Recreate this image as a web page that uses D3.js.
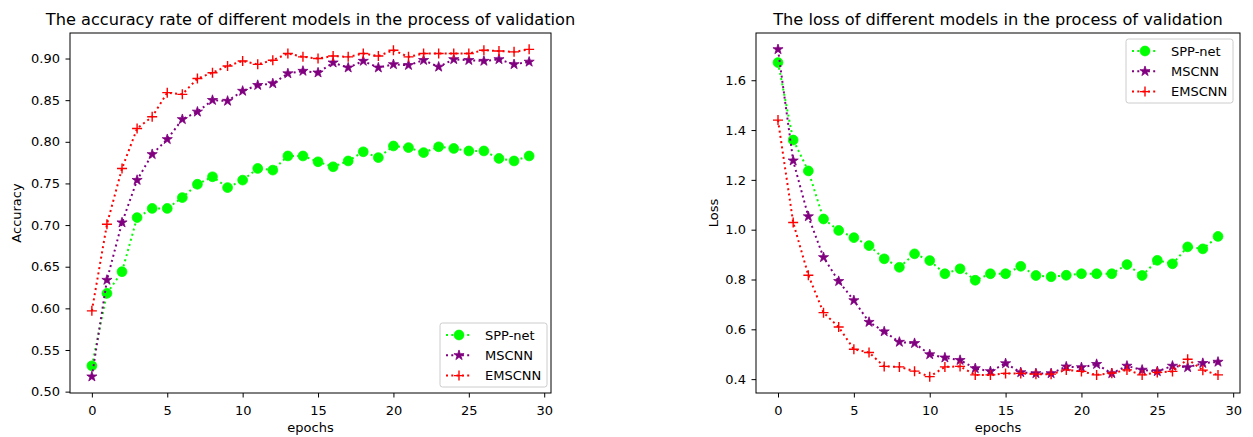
<!DOCTYPE html>
<html>
<head>
<meta charset="utf-8">
<script src="https://cdn.jsdelivr.net/npm/d3@7.9.0/dist/d3.min.js"></script>
<style>
  body { margin: 0; background: #fff; }
  svg { display: block; font-family: "DejaVu Sans", sans-serif; }
  .tick text { font-family: "DejaVu Sans", sans-serif; font-size: 13px; fill: #000; }
  .tick line { stroke: #000; stroke-width: 1; }
</style>
</head>
<body>
<svg id="chart" width="1253" height="437"></svg>
<script>
// epochs on the x axis
const epochs = d3.range(30);

// validation accuracy
const accSPP = [0.531, 0.618, 0.644, 0.709, 0.720, 0.720, 0.733, 0.749, 0.758, 0.745,
                0.754, 0.768, 0.766, 0.783, 0.783, 0.776, 0.770, 0.777, 0.788, 0.781,
                0.795, 0.793, 0.787, 0.794, 0.792, 0.789, 0.789, 0.780, 0.777, 0.783];
const accMS = [0.518, 0.634, 0.703, 0.754, 0.785, 0.803, 0.827, 0.836, 0.850, 0.849,
               0.861, 0.868, 0.870, 0.882, 0.885, 0.883, 0.895, 0.889, 0.897, 0.889,
               0.893, 0.892, 0.898, 0.890, 0.899, 0.898, 0.897, 0.899, 0.893, 0.896];
const accEMS = [0.597, 0.701, 0.768, 0.816, 0.830, 0.859, 0.857, 0.876, 0.883, 0.891,
                0.897, 0.893, 0.898, 0.906, 0.902, 0.900, 0.903, 0.902, 0.906, 0.903,
                0.910, 0.902, 0.906, 0.906, 0.906, 0.906, 0.910, 0.909, 0.908, 0.911];

// validation loss
const lossSPP = [1.671, 1.360, 1.236, 1.043, 0.997, 0.968, 0.936, 0.883, 0.849, 0.903,
                 0.876, 0.823, 0.843, 0.797, 0.823, 0.823, 0.853, 0.816, 0.811, 0.817,
                 0.823, 0.823, 0.823, 0.860, 0.816, 0.877, 0.863, 0.931, 0.923, 0.973];
const lossMS = [1.724, 1.277, 1.053, 0.889, 0.793, 0.716, 0.629, 0.591, 0.549, 0.544,
                0.499, 0.486, 0.476, 0.443, 0.431, 0.463, 0.427, 0.423, 0.423, 0.450,
                0.447, 0.460, 0.423, 0.453, 0.437, 0.431, 0.453, 0.447, 0.464, 0.469];
const lossEMS = [1.440, 1.029, 0.817, 0.667, 0.609, 0.520, 0.507, 0.451, 0.449, 0.432,
                 0.410, 0.449, 0.451, 0.417, 0.417, 0.423, 0.423, 0.420, 0.420, 0.437,
                 0.431, 0.417, 0.424, 0.437, 0.417, 0.427, 0.431, 0.480, 0.436, 0.417];

const modelNames = ['SPP-net', 'MSCNN', 'EMSCNN'];
const modelColors = ['#00ff00', '#800080', '#ff0000'];
const modelMarkers = ['circle', 'star', 'plus'];

const xTicks = [0, 5, 10, 15, 20, 25, 30];
const accTicks = [0.50, 0.55, 0.60, 0.65, 0.70, 0.75, 0.80, 0.85, 0.90];
const lossTicks = [0.4, 0.6, 0.8, 1.0, 1.2, 1.4, 1.6];

const svg = d3.select('#chart');

// draw one marker of the given kind at (0,0) inside g
function drawMarker(g, kind, color) {
  if (kind === 'circle') {
    g.append('circle').attr('r', 4.9).attr('fill', color).attr('stroke', color).attr('stroke-width', 0.8);
  } else if (kind === 'star') {
    g.append('path').attr('d', d3.symbol(d3.symbolStar, 32)())
      .attr('fill', color).attr('stroke', color).attr('stroke-width', 0.8);
  } else {
    g.append('path').attr('d', 'M-5,0H5M0,-5V5')
      .attr('stroke', color).attr('stroke-width', 1.4).attr('fill', 'none');
  }
}

function drawPanel(p) {
  const x = d3.scaleLinear().domain([-1.45, 30.45]).range([p.left, p.right]);
  const all = p.series.flat();
  const lo = d3.min(all), hi = d3.max(all), pad = (hi - lo) * 0.05;
  const y = d3.scaleLinear().domain([lo - pad, hi + pad]).range([p.bottom, p.top]);

  const g = svg.append('g');

  g.append('g')
    .attr('transform', `translate(0,${p.bottom})`)
    .call(d3.axisBottom(x).tickValues(xTicks).tickSize(4.5).tickPadding(8).tickFormat(d3.format('d')))
    .call(a => a.select('.domain').remove());

  g.append('g')
    .attr('transform', `translate(${p.left},0)`)
    .call(d3.axisLeft(y).tickValues(p.yTicks).tickSize(4.5).tickPadding(5.5).tickFormat(d3.format(p.yFormat)))
    .call(a => a.select('.domain').remove());

  const line = d3.line().x((d, i) => x(epochs[i])).y(d => y(d));

  p.series.forEach((s, k) => {
    g.append('path')
      .attr('d', line(s))
      .attr('fill', 'none')
      .attr('stroke', modelColors[k])
      .attr('stroke-width', 2)
      .attr('stroke-dasharray', '2,3.3');
    s.forEach((v, i) => {
      const m = g.append('g').attr('transform', `translate(${x(epochs[i])},${y(v)})`);
      drawMarker(m, modelMarkers[k], modelColors[k]);
    });
  });

  // frame
  g.append('rect')
    .attr('x', p.left).attr('y', p.top)
    .attr('width', p.right - p.left).attr('height', p.bottom - p.top)
    .attr('fill', 'none').attr('stroke', '#000').attr('stroke-width', 1);

  // title and labels
  g.append('text')
    .attr('x', (p.left + p.right) / 2).attr('y', 25)
    .attr('text-anchor', 'middle').attr('font-size', 16.2).attr('fill', '#000')
    .text(p.title);
  g.append('text')
    .attr('x', (p.left + p.right) / 2).attr('y', 432)
    .attr('text-anchor', 'middle').attr('font-size', 13).attr('fill', '#000')
    .text('epochs');
  g.append('text')
    .attr('transform', `translate(${p.yLabelX},${(p.top + p.bottom) / 2}) rotate(-90)`)
    .attr('text-anchor', 'middle').attr('font-size', 13).attr('fill', '#000')
    .text(p.yLabel);

  // legend
  const lg = g.append('g').attr('transform', `translate(${p.legendX},${p.legendY})`);
  lg.append('rect')
    .attr('width', 107).attr('height', 64).attr('rx', 2.5)
    .attr('fill', '#fff').attr('fill-opacity', 0.8)
    .attr('stroke', '#cccccc').attr('stroke-width', 1);
  modelNames.forEach((name, k) => {
    const ry = 12 + k * 20.3;
    lg.append('line')
      .attr('x1', 6).attr('x2', 32).attr('y1', ry).attr('y2', ry)
      .attr('stroke', modelColors[k]).attr('stroke-width', 2).attr('stroke-dasharray', '2,3.3');
    drawMarker(lg.append('g').attr('transform', `translate(19,${ry})`), modelMarkers[k], modelColors[k]);
    lg.append('text')
      .attr('x', 45).attr('y', ry).attr('dy', '0.36em')
      .attr('font-size', 13).attr('fill', '#000')
      .text(name);
  });
}

drawPanel({
  left: 70, right: 551, top: 33, bottom: 393,
  series: [accSPP, accMS, accEMS],
  yTicks: accTicks, yFormat: '.2f',
  title: 'The accuracy rate of different models in the process of validation',
  yLabel: 'Accuracy', yLabelX: 21,
  legendX: 440, legendY: 323
});

drawPanel({
  left: 756, right: 1240, top: 33, bottom: 393,
  series: [lossSPP, lossMS, lossEMS],
  yTicks: lossTicks, yFormat: '.1f',
  title: 'The loss of different models in the process of validation',
  yLabel: 'Loss', yLabelX: 718,
  legendX: 1126, legendY: 39
});
</script>
</body>
</html>
